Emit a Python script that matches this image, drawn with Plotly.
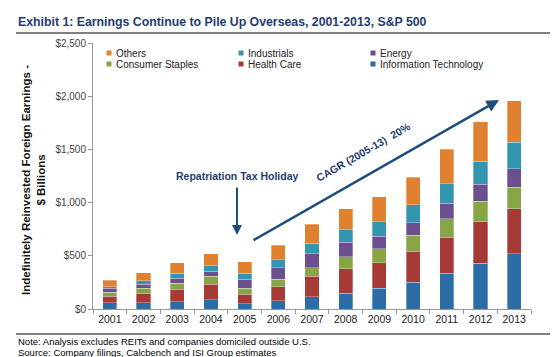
import plotly.graph_objects as go

years = ["2001","2002","2003","2004","2005","2006","2007","2008","2009","2010","2011","2012","2013"]
info_tech = [60, 60, 69, 85, 50, 78, 113, 150, 194, 251, 335, 429, 517]
health_care = [59, 90, 119, 147, 91, 129, 194, 229, 241, 294, 339, 392, 423]
consumer_staples = [38, 44, 53, 75, 53, 72, 82, 110, 129, 147, 175, 191, 204]
energy = [40, 38, 47, 47, 85, 109, 128, 138, 119, 119, 147, 160, 172]
industrials = [13, 34, 47, 53, 56, 73, 103, 119, 138, 167, 182, 219, 250]
others = [59, 75, 100, 110, 107, 137, 176, 194, 232, 260, 323, 367, 392]

series_names = ["Information Technology", "Health Care", "Consumer Staples", "Energy", "Industrials", "Others"]
series_values = [info_tech, health_care, consumer_staples, energy, industrials, others]
series_colors = ["#2d6da5", "#a63a36", "#87a544", "#6b4f8f", "#3396b1", "#e0812f"]

y_ticks = [0, 500, 1000, 1500, 2000, 2500]
y_ticklabels = ["$0", "$500", "$1,000", "$1,500", "$2,000", "$2,500"]

W, H = 558, 357
L, R, T, B = 85, 35, 35, 56
PW, PH = W - L - R, H - T - B

def px(x):
    return (x - L) / PW

def py(y):
    return (H - B - y) / PH

fig = go.Figure()
for name, vals, col in zip(series_names, series_values, series_colors):
    fig.add_trace(go.Bar(x=years, y=vals, name=name, marker=dict(color=col, line=dict(color="rgba(255,255,255,0.6)", width=0.5)), showlegend=False))

font_main = "Liberation Sans, Arial, sans-serif"
annotations = []
shapes = []

# manual legend: rows/cols
legend_order = ["Others", "Industrials", "Energy", "Consumer Staples", "Health Care", "Information Technology"]
col_x = [101, 233, 365]
row_y = [45, 56]
for i, name in enumerate(legend_order):
    c = series_colors[series_names.index(name)]
    cx = col_x[i % 3]
    cy = row_y[i // 3]
    shapes.append(dict(type="rect", xref="paper", yref="paper", x0=px(cx - 2.5), x1=px(cx + 2.5), y0=py(cy + 2.5), y1=py(cy - 2.5), fillcolor=c, line=dict(width=0)))
    annotations.append(dict(xref="paper", yref="paper", x=px(cx + 5), y=py(cy), xanchor="left", yanchor="middle", text=name, showarrow=False, font=dict(size=10, color="#222", family=font_main)))

# title
annotations.append(dict(xref="paper", yref="paper", x=px(8), y=py(14), xanchor="left", yanchor="middle", text="<b>Exhibit 1: Earnings Continue to Pile Up Overseas, 2001-2013, S&P 500</b>", showarrow=False, font=dict(size=12.3, color="#1f3c6e", family=font_main)))
shapes.append(dict(type="line", xref="paper", yref="paper", x0=px(8), x1=px(546), y0=py(25), y1=py(25), line=dict(color="#000", width=1.2)))
shapes.append(dict(type="line", xref="paper", yref="paper", x0=px(8), x1=px(546), y0=py(326), y1=py(326), line=dict(color="#000", width=1.2)))

# notes
annotations.append(dict(xref="paper", yref="paper", x=px(8), y=py(333), xanchor="left", yanchor="middle", text="Note: Analysis excludes REITs and companies domiciled outside U.S.", showarrow=False, font=dict(size=9.5, color="#000", family=font_main)))
annotations.append(dict(xref="paper", yref="paper", x=px(8), y=py(345), xanchor="left", yanchor="middle", text="Source: Company filings, Calcbench and ISI Group estimates", showarrow=False, font=dict(size=9.5, color="#000", family=font_main)))

# y title
annotations.append(dict(xref="paper", yref="paper", x=px(25), y=py(172), xanchor="center", yanchor="middle", textangle=-90, text="<b>Indefinitely Reinvested Foreign Earnings -<br>$ Billions</b>", showarrow=False, font=dict(size=11.5, color="#111", family=font_main)))

# repatriation arrow
arrow_col = "#1f4e79"
annotations.append(dict(xref="paper", yref="paper", x=px(229), y=py(227), ax=0, ay=-49, axref="pixel", ayref="pixel", text="", showarrow=True, arrowhead=2, arrowsize=1, arrowwidth=2, arrowcolor=arrow_col))
annotations.append(dict(xref="paper", yref="paper", x=px(229), y=py(168), xanchor="center", yanchor="middle", text="<b>Repatriation Tax Holiday</b>", showarrow=False, font=dict(size=10.5, color="#1f3c6e", family=font_main)))

# CAGR arrow
annotations.append(dict(xref="paper", yref="paper", x=px(491), y=py(92), ax=-247, ay=141, axref="pixel", ayref="pixel", text="", showarrow=True, arrowhead=2, arrowsize=1, arrowwidth=2.5, arrowcolor=arrow_col))
annotations.append(dict(xref="paper", yref="paper", x=px(355), y=py(144), xanchor="center", yanchor="middle", textangle=-30, text="<b>CAGR (2005-13)  20%</b>", showarrow=False, font=dict(size=10.5, color="#1f3c6e", family=font_main)))

fig.update_layout(
    width=W, height=H,
    margin=dict(l=L, r=R, t=T, b=B),
    paper_bgcolor="white", plot_bgcolor="white",
    barmode="stack", bargap=0.58,
    font=dict(family=font_main, size=10, color="#222"),
    annotations=annotations, shapes=shapes,
    showlegend=False,
)
fig.update_xaxes(showline=True, linecolor="#999", linewidth=1, ticks="outside", ticklen=4, tickcolor="#999", tickson="boundaries", tickfont=dict(size=10.5, color="#222"), showgrid=False)
fig.update_yaxes(range=[0, 2500], tickvals=y_ticks, ticktext=y_ticklabels, showline=True, linecolor="#999", linewidth=1, ticks="outside", ticklen=4, tickcolor="#999", tickfont=dict(size=10, color="#444"), showgrid=False, zeroline=False)

fig.write_html("out.html")
